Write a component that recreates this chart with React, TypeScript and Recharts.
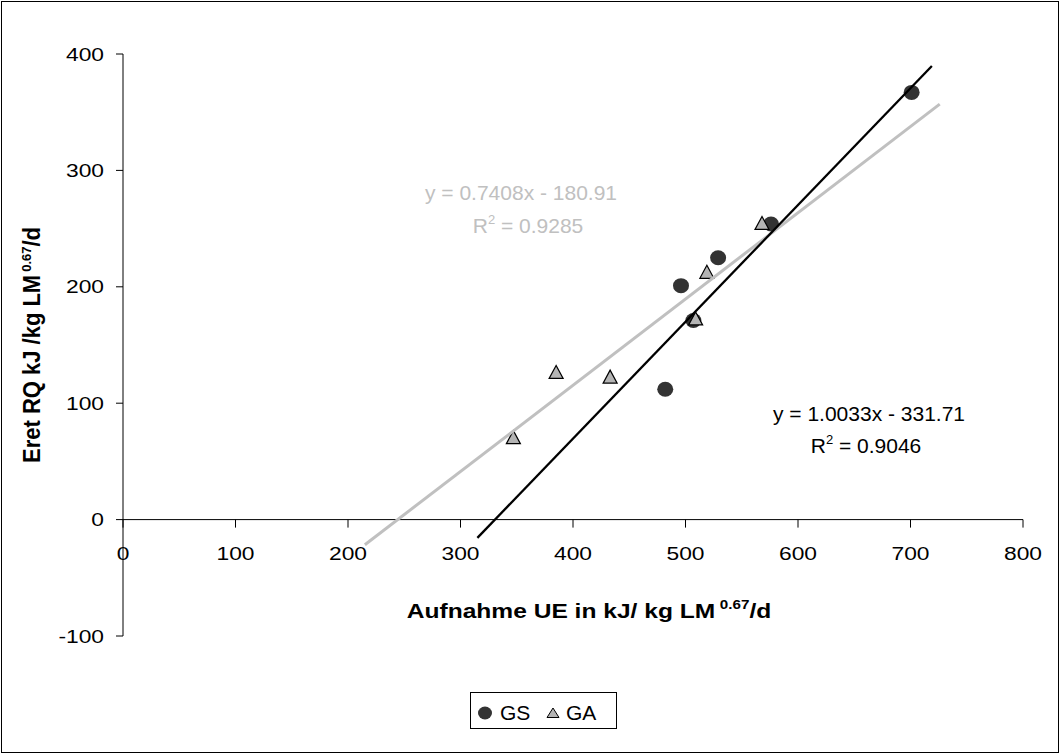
import React from "react";
import {
  Customized,
  Legend,
  ReferenceDot,
  ReferenceLine,
  Scatter,
  ScatterChart,
  XAxis,
  YAxis,
} from "recharts";

const FONT = "'Liberation Sans', Arial, Helvetica, sans-serif";

// Aufnahme UE (x) / Eret RQ (y)
const gsIntake = [482, 496, 507, 529, 576, 701];
const gsRetention = [112, 201, 171, 225, 254, 367];
const gaIntake = [347, 385, 433, 509, 519, 568];
const gaRetention = [70, 126, 122, 172, 212, 254];

// trend line ends as drawn in the picture
const gsTrendX = [315, 719];
const gsTrendY = [-15.7, 389.7];
const gaTrendX = [215, 726];
const gaTrendY = [-21.6, 356.9];

const xTicks = [0, 100, 200, 300, 400, 500, 600, 700, 800];
const yTicks = [-100, 0, 100, 200, 300, 400];

const gsEquation = "y = 1.0033x - 331.71";
const gsR2 = "0.9046";
const gaEquation = "y = 0.7408x - 180.91";
const gaR2 = "0.9285";

const toPoints = (xs: number[], ys: number[]) =>
  xs.map((x, i) => ({ x, y: ys[i] }));

const gsData = toPoints(gsIntake, gsRetention);
const gaData = toPoints(gaIntake, gaRetention);
const gsTrend = toPoints(gsTrendX, gsTrendY);
const gaTrend = toPoints(gaTrendX, gaTrendY);

// text with an optional sideways stretch (the source image is widened)
function SText({
  x,
  y,
  size,
  sx = 1,
  anchor = "middle",
  fill = "#000",
  weight = "normal",
  rotate,
  children,
}: any) {
  return (
    <text
      transform={`translate(${x},${y}) scale(${sx},1)${
        rotate ? ` rotate(${rotate})` : ""
      }`}
      textAnchor={anchor}
      fontFamily={FONT}
      fontSize={size}
      fontWeight={weight}
      fill={fill}
    >
      {children}
    </text>
  );
}

const Circle = ({ cx, cy }: any) => (
  <ellipse cx={cx} cy={cy} rx={8} ry={7.5} fill="#333333" />
);

const Triangle = ({ cx, cy }: any) => (
  <polygon
    points={`${cx},${cy - 7.5} ${cx - 7},${cy + 5.5} ${cx + 7},${cy + 5.5}`}
    fill="#b4b4b4"
    stroke="#000"
    strokeWidth={1.2}
  />
);

const NoShape = () => <g />;

const YTick = ({ x, y, payload }: any) => (
  <SText x={x} y={y + 6.5} size={19} sx={1.2} anchor="end">
    {payload.value}
  </SText>
);

const xTickShape = (value: number) => ({ cx, cy }: any) => (
  <g>
    <line x1={cx} y1={cy} x2={cx} y2={cy + 8} stroke="#000" />
    <SText x={cx} y={cy + 40.5} size={19} sx={1.2}>
      {value}
    </SText>
  </g>
);

const Annotations = () => (
  <g>
    <SText x={521} y={200} size={21} fill="#c0c0c0">
      {gaEquation}
    </SText>
    <SText x={528} y={233} size={21} fill="#c0c0c0">
      R<tspan dy={-9} fontSize={13}>2</tspan>
      <tspan dy={9}>{` = ${gaR2}`}</tspan>
    </SText>
    <SText x={869} y={421} size={21}>
      {gsEquation}
    </SText>
    <SText x={866} y={453} size={21}>
      R<tspan dy={-9} fontSize={13}>2</tspan>
      <tspan dy={9}>{` = ${gsR2}`}</tspan>
    </SText>

    <SText x={589} y={618} size={21} sx={1.17} weight="bold">
      Aufnahme UE in kJ/ kg LM
      <tspan dx={4} dy={-9} fontSize={13}>
        0.67
      </tspan>
      <tspan dy={9}>/d</tspan>
    </SText>
    <SText x={40} y={345} size={22} sx={1.05} weight="bold" rotate={-90}>
      Eret RQ kJ /kg LM
      <tspan dx={3} dy={-9} fontSize={13}>
        0.67
      </tspan>
      <tspan dy={9}>/d</tspan>
    </SText>
  </g>
);

const LegendBox = () => (
  <div
    style={{
      width: 147,
      height: 37,
      border: "1px solid #000",
      boxSizing: "border-box",
      background: "#fff",
    }}
  >
    <svg width={145} height={35} style={{ display: "block" }}>
      <ellipse cx={14} cy={20} rx={7} ry={6.5} fill="#333333" />
      <SText x={29} y={27} size={21} anchor="start">
        GS
      </SText>
      <polygon
        points="82,15 76,24.5 88,24.5"
        fill="#b4b4b4"
        stroke="#000"
        strokeWidth={1}
      />
      <SText x={95} y={27} size={21} anchor="start">
        GA
      </SText>
    </svg>
  </div>
);

export default function App() {
  return (
    <div
      style={{
        position: "absolute",
        left: 0,
        top: 0,
        width: 1061,
        height: 754,
        background: "#fff",
      }}
    >
      <ScatterChart
        width={1061}
        height={754}
        margin={{ top: 54, right: 38, bottom: 118, left: 63 }}
      >
        <XAxis
          type="number"
          dataKey="x"
          domain={[0, 800]}
          ticks={xTicks}
          hide
          allowDataOverflow
        />
        <YAxis
          type="number"
          dataKey="y"
          domain={[-100, 400]}
          ticks={yTicks}
          width={60}
          axisLine={{ stroke: "#000" }}
          tickLine={{ stroke: "#000" }}
          tickSize={7}
          tickMargin={12}
          tick={<YTick />}
          allowDataOverflow
        />
        <ReferenceLine y={0} stroke="#000" strokeWidth={1} />
        {xTicks.map((t) => (
          <ReferenceDot key={t} x={t} y={0} r={0} shape={xTickShape(t)} />
        ))}
        <Scatter
          name="GS"
          data={gsData}
          shape={<Circle />}
          isAnimationActive={false}
        />
        <Scatter
          name="GA"
          data={gaData}
          shape={<Triangle />}
          isAnimationActive={false}
        />
        <Scatter
          name="GA trend"
          data={gaTrend}
          line={{ stroke: "#c0c0c0", strokeWidth: 3 }}
          shape={<NoShape />}
          legendType="none"
          isAnimationActive={false}
        />
        <Scatter
          name="GS trend"
          data={gsTrend}
          line={{ stroke: "#000", strokeWidth: 2.3 }}
          shape={<NoShape />}
          legendType="none"
          isAnimationActive={false}
        />
        <Customized component={Annotations} />
        <Legend
          layout="horizontal"
          verticalAlign="middle"
          align="center"
          wrapperStyle={{ left: 470, top: 692, width: 147, height: 37 }}
          content={<LegendBox />}
        />
      </ScatterChart>
      <div
        style={{
          position: "absolute",
          left: 1,
          top: 1,
          width: 1058,
          height: 752,
          border: "1px solid #000",
          boxSizing: "border-box",
          pointerEvents: "none",
        }}
      />
    </div>
  );
}
